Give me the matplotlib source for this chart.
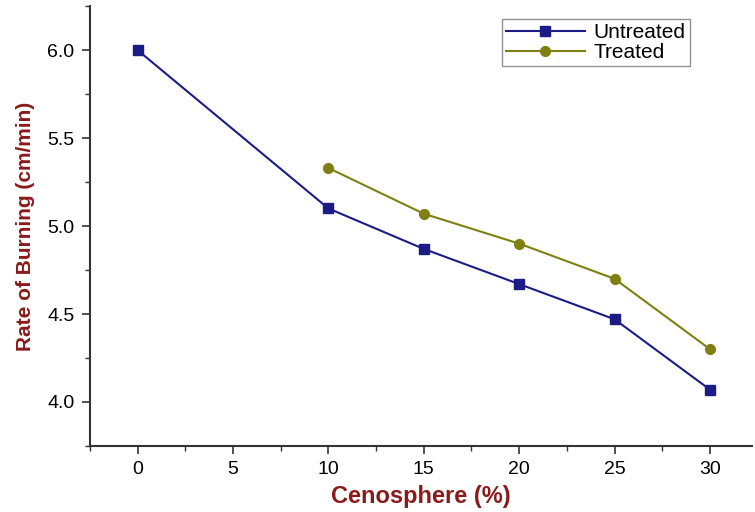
import matplotlib.pyplot as plt
from matplotlib.ticker import MultipleLocator

plt.rcParams["font.family"] = ["Liberation Sans", "DejaVu Sans"]

x_untreated = [0, 10, 15, 20, 25, 30]
y_untreated = [6.0, 5.10, 4.87, 4.67, 4.47, 4.07]
x_treated = [10, 15, 20, 25, 30]
y_treated = [5.33, 5.07, 4.90, 4.70, 4.30]

label_color = "#8b1a1a"

fig = plt.figure(figsize=(7.55, 5.12), dpi=100)
ax = fig.add_axes([0.119, 0.129, 0.877, 0.859])

ax.plot(x_untreated, y_untreated, color="#1c1c86", marker="s", ms=6.5,
        lw=1.5, label="Untreated")
ax.plot(x_treated, y_treated, color="#7f7f12", marker="o", ms=7,
        lw=1.5, label="Treated")

ax.set_xlim(-2.5, 32.2)
ax.set_ylim(3.75, 6.25)
ax.xaxis.set_major_locator(MultipleLocator(5))
ax.xaxis.set_minor_locator(MultipleLocator(2.5))
ax.yaxis.set_major_locator(MultipleLocator(0.5))
ax.yaxis.set_minor_locator(MultipleLocator(0.25))
ax.set_yticks([4.0, 4.5, 5.0, 5.5, 6.0])
ax.set_yticklabels(["4.0", "4.5", "5.0", "5.5", "6.0"])

for side in ("top", "right"):
    ax.spines[side].set_visible(False)
for side in ("left", "bottom"):
    ax.spines[side].set_linewidth(1.5)
    ax.spines[side].set_color("#333333")

ax.tick_params(which="major", direction="out", length=6, width=1.2,
               labelsize=14, colors="#333333", labelcolor="black", pad=5)
ax.tick_params(which="minor", direction="out", length=3.5, width=1.0,
               colors="#333333")

ax.set_xlabel("Cenosphere (%)", fontsize=17, fontweight="bold",
              color=label_color, labelpad=5)
ax.set_ylabel("Rate of Burning (cm/min)", fontsize=15, fontweight="bold",
              color=label_color, labelpad=9)

leg = ax.legend(loc="upper right", bbox_to_anchor=(0.912, 0.98),
                fontsize=15, frameon=True, fancybox=False,
                handlelength=3.8, borderpad=0.2, labelspacing=0.05,
                handletextpad=0.4, borderaxespad=0.2)
leg.get_frame().set_edgecolor("#777777")
leg.get_frame().set_linewidth(1.0)

plt.savefig("out.png", dpi=100)
